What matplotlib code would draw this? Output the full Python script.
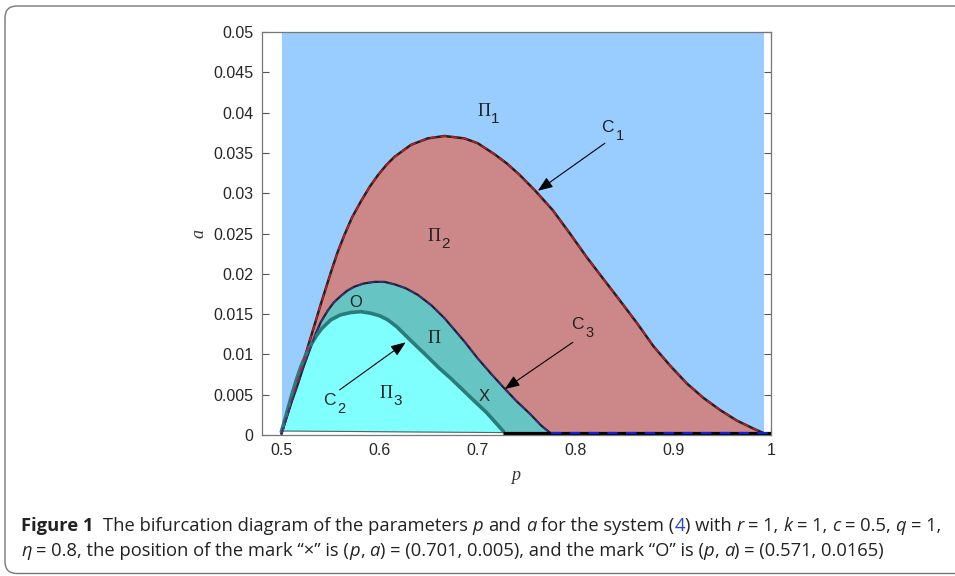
import matplotlib
matplotlib.use('Agg')
import matplotlib.pyplot as plt
from matplotlib.patches import FancyBboxPatch
from matplotlib import font_manager
from matplotlib.font_manager import FontProperties

# ---------------- data ----------------
x_ticks = [0.5, 0.6, 0.7, 0.8, 0.9, 1.0]
x_tick_labels = ["0.5", "0.6", "0.7", "0.8", "0.9", "1"]
y_ticks = [0, 0.005, 0.01, 0.015, 0.02, 0.025, 0.03, 0.035, 0.04, 0.045, 0.05]
y_tick_labels = ["0", "0.005", "0.01", "0.015", "0.02", "0.025", "0.03",
                 "0.035", "0.04", "0.045", "0.05"]

# region II1 (background) extent in p
blue_p = [0.5, 0.993]

# curve C1 (boundary II1 / II2)
c1_p = [0.500, 0.510, 0.520, 0.530, 0.541, 0.5504, 0.557, 0.5641, 0.572, 0.5811,
        0.590, 0.5982, 0.607, 0.6152, 0.6322, 0.6493, 0.6664, 0.6868, 0.7004, 0.718,
        0.730, 0.743, 0.760, 0.777, 0.794, 0.8115, 0.8285, 0.8456, 0.863, 0.880,
        0.897, 0.914, 0.931, 0.948, 0.965, 0.982, 0.993]
c1_a = [0.0002, 0.0042, 0.0082, 0.0122, 0.0166, 0.0202, 0.0226, 0.0248, 0.0270, 0.0290,
        0.0308, 0.0322, 0.0335, 0.0345, 0.0360, 0.0368, 0.0371, 0.0368, 0.0362, 0.0348,
        0.0337, 0.0323, 0.0302, 0.0279, 0.0251, 0.0221, 0.0194, 0.0167, 0.0139, 0.0110,
        0.0086, 0.0064, 0.0046, 0.0031, 0.0018, 0.0008, 0.0002]

# curve C3 (boundary II2 / II)
c3_p = [0.500, 0.510, 0.5164, 0.522, 0.528, 0.534, 0.540, 0.547, 0.553, 0.560,
        0.567, 0.5743, 0.584, 0.5948, 0.605, 0.6152, 0.627, 0.639, 0.653, 0.6664,
        0.6868, 0.7004, 0.714, 0.726, 0.740, 0.754, 0.765, 0.775]
c3_a = [0.0002, 0.0040, 0.0062, 0.0083, 0.0103, 0.0123, 0.0140, 0.0154, 0.0164, 0.0172,
        0.0179, 0.0184, 0.0188, 0.0190, 0.0190, 0.0187, 0.0182, 0.0174, 0.0161, 0.0145,
        0.0116, 0.0095, 0.0076, 0.0060, 0.0042, 0.0026, 0.0012, 0.0002]

# curve C2 (boundary II / II3)
c2_p = [0.500, 0.505, 0.5095, 0.515, 0.5198, 0.525, 0.530, 0.5355, 0.541, 0.5504,
        0.560, 0.5709, 0.581, 0.5913, 0.600, 0.6084, 0.618, 0.6288, 0.639, 0.6493,
        0.661, 0.6731, 0.6936, 0.7093, 0.7263]
c2_a = [0.0005, 0.0026, 0.0046, 0.0068, 0.0085, 0.0100, 0.0112, 0.0123, 0.0132, 0.0143,
        0.0149, 0.0152, 0.0153, 0.0151, 0.0148, 0.0143, 0.0134, 0.0121, 0.0109, 0.0097,
        0.0083, 0.0070, 0.0046, 0.0028, 0.0005]

# lower edge of region II3
low_p = [0.500, 0.7263]
low_a = [0.0005, 0.0003]

# bottom boundary segments
bottom_p = [0.7263, 1.0]
bottom_a = [0.0002, 0.0002]
bottom_blue_p = [0.775, 1.0]

# marks and labels
mark_o = (0.576, 0.0165)
mark_x = (0.7065, 0.0048)
region_labels = [("\u03a0", "1", 0.7065, 0.0401),
                 ("\u03a0", "2", 0.6554, 0.0246),
                 ("\u03a0", "", 0.6554, 0.0120),
                 ("\u03a0", "3", 0.6063, 0.0052)]
curve_labels = [("C", "1", 0.8333, 0.0381),
                ("C", "3", 0.8027, 0.0137),
                ("C", "2", 0.5491, 0.0043)]
arrows = [((0.8303, 0.0362), (0.7618, 0.0303)),
          ((0.7975, 0.0115), (0.7280, 0.0057)),
          ((0.5593, 0.0056), (0.6268, 0.0115))]

# ---------------- figure ----------------
W, H = 955, 576
fig = plt.figure(figsize=(W / 100, H / 100), dpi=100)
fig.patch.set_facecolor('white')

# outer rounded frame
frame = FancyBboxPatch((0.05, 0.025), 10.0, 5.675,
                       boxstyle='round,pad=0,rounding_size=0.12',
                       transform=fig.dpi_scale_trans, fill=False,
                       edgecolor='#777777', lw=1.0)
fig.add_artist(frame)

ax = fig.add_axes([262 / W, 1 - 435 / H, (771 - 262) / W, (435 - 32) / H])
ax.set_xlim(0.48, 1.0)
ax.set_ylim(0, 0.05)
ax.set_axisbelow(True)

# fills
ax.fill_between(blue_p, 0, 0.05, color='#99CCFF', lw=0, zorder=1)
ax.fill_between(c1_p, 0, c1_a, color='#CC8888', lw=0, zorder=2)
ax.fill_between(c3_p, 0, c3_a, color='#66C4C2', lw=0, zorder=3)
ax.fill_between(c2_p, [low_a[0] + (low_a[1] - low_a[0]) * (p - low_p[0]) / (low_p[1] - low_p[0]) for p in c2_p],
                c2_a, color='#80FFFF', lw=0, zorder=4)
ax.fill_between(low_p, 0, low_a, color='white', lw=0, zorder=4.5)

# lines
ax.plot(c1_p, c1_a, color='#222222', lw=1.8, zorder=6, solid_joinstyle='round')
ax.plot(c1_p, c1_a, color='#D01818', lw=1.1, ls=(0, (4, 3)), zorder=7)
ax.plot(c3_p, c3_a, color='#222222', lw=1.6, zorder=6, solid_joinstyle='round')
ax.plot(c3_p, c3_a, color='#3A2A9A', lw=1.1, ls=(0, (4, 3)), zorder=7)
ax.plot(c2_p, c2_a, color='#2A7C7A', lw=2.6, zorder=6, solid_joinstyle='round')
ax.plot(low_p, low_a, color='#556666', lw=0.8, zorder=6)
ax.plot(bottom_p, bottom_a, color='black', lw=2.3, zorder=6, solid_capstyle='butt')
ax.plot(bottom_blue_p, bottom_a, color='#1020E0', lw=1.5, ls=(0, (5, 4)), zorder=7)

# ticks & spines
ax.set_xticks(x_ticks)
ax.set_xticklabels(x_tick_labels)
ax.set_yticks(y_ticks)
ax.set_yticklabels(y_tick_labels)
ax.tick_params(direction='in', length=5, width=0.8, color='#555555',
               top=True, right=True, labelsize=11.5, labelcolor='#262626', pad=6)
for lab in ax.get_xticklabels() + ax.get_yticklabels():
    lab.set_family('Liberation Sans')
for s in ax.spines.values():
    s.set_color('#777777')
    s.set_linewidth(0.9)
    s.set_zorder(8)

# axis labels
fig.text(199 / W, 1 - 233 / H, 'a', family='Liberation Serif', style='italic',
         fontsize=13, rotation=90, ha='center', va='center', color='#333333')
fig.text(516 / W, 1 - 476 / H, 'p', family='Liberation Serif', style='italic',
         fontsize=13, ha='center', va='center', color='#333333')

# region / curve labels
for main, sub, x, y in region_labels:
    ax.text(x, y, main, family='Liberation Serif', fontsize=13, ha='center',
            va='center', color='#222222', zorder=10)
    if sub:
        ax.annotate(sub, (x, y), xytext=(8.5, -5.5), textcoords='offset points',
                    family='Liberation Sans', fontsize=11, ha='center', va='center',
                    color='#222222', zorder=10)
for main, sub, x, y in curve_labels:
    ax.text(x, y, main, family='Liberation Sans', fontsize=12.5, ha='center',
            va='center', color='#222222', zorder=10)
    ax.annotate(sub, (x, y), xytext=(8.5, -6), textcoords='offset points',
                family='Liberation Sans', fontsize=10.5, ha='center', va='center',
                color='#222222', zorder=10)
ax.text(mark_o[0], mark_o[1], 'O', family='Liberation Sans', fontsize=12,
        ha='center', va='center', color='#222222', zorder=10)
ax.text(mark_x[0], mark_x[1], 'X', family='Liberation Sans', fontsize=12,
        ha='center', va='center', color='#222222', zorder=10)
for tail, head in arrows:
    ax.annotate('', xy=head, xytext=tail,
                arrowprops=dict(arrowstyle='-|>,head_length=0.9,head_width=0.35',
                                color='black', lw=0.8, shrinkA=0, shrinkB=0),
                zorder=11)

# ---------------- caption ----------------
def pick_font():
    for fam in ['Liberation Sans Narrow', 'Open Sans']:
        try:
            font_manager.findfont(FontProperties(family=fam), fallback_to_default=False)
            return fam
        except Exception:
            pass
    return 'DejaVu Sans'

cap_font = pick_font()
renderer = fig.canvas.get_renderer()

line1 = [("Figure 1", 'normal', 'bold', '#222222'),
         ("  The bifurcation diagram of the parameters ", 'normal', 'normal', '#222222'),
         ("p", 'italic', 'normal', '#222222'),
         (" and ", 'normal', 'normal', '#222222'),
         ("a", 'italic', 'normal', '#222222'),
         (" for the system (", 'normal', 'normal', '#222222'),
         ("4", 'normal', 'normal', '#2244DD'),
         (") with ", 'normal', 'normal', '#222222'),
         ("r", 'italic', 'normal', '#222222'),
         (" = 1, ", 'normal', 'normal', '#222222'),
         ("k", 'italic', 'normal', '#222222'),
         (" = 1, ", 'normal', 'normal', '#222222'),
         ("c", 'italic', 'normal', '#222222'),
         (" = 0.5, ", 'normal', 'normal', '#222222'),
         ("q", 'italic', 'normal', '#222222'),
         (" = 1,", 'normal', 'normal', '#222222')]
line2 = [("\u03b7", 'italic', 'normal', '#222222'),
         (" = 0.8, the position of the mark \u201c\u00d7\u201d is (", 'normal', 'normal', '#222222'),
         ("p", 'italic', 'normal', '#222222'),
         (", ", 'normal', 'normal', '#222222'),
         ("a", 'italic', 'normal', '#222222'),
         (") = (0.701, 0.005), and the mark \u201cO\u201d is (", 'normal', 'normal', '#222222'),
         ("p", 'italic', 'normal', '#222222'),
         (", ", 'normal', 'normal', '#222222'),
         ("a", 'italic', 'normal', '#222222'),
         (") = (0.571, 0.0165)", 'normal', 'normal', '#222222')]


def text_w(s, size, style='normal', weight='normal'):
    t = fig.text(0, 0, s, fontsize=size, family=[cap_font, 'DejaVu Sans'],
                 style=style, weight=weight)
    w = t.get_window_extent(renderer).width
    t.remove()
    return w


def seg_w(s, size, style, weight):
    return text_w('|' + s + '|', size, style, weight) - 2 * text_w('|', size, style, weight)


def draw_line(pieces, x0, y_px, size, draw=True):
    x = x0
    for s, style, weight, color in pieces:
        w = seg_w(s, size, style, weight)
        if draw:
            lead = len(s) - len(s.lstrip(' '))
            core = s.strip(' ')
            sp = (seg_w(' ' * lead, size, style, weight) if lead else 0.0)
            if core:
                fig.text((x + sp) / W, 1 - y_px / H, core, fontsize=size,
                         family=[cap_font, 'DejaVu Sans'], style=style,
                         weight=weight, color=color, ha='left', va='baseline')
        x += w
    return x - x0


base = 11.0
w1 = draw_line(line1, 21, 531, base, draw=False)
size = base * (923.0 / w1)
draw_line(line1, 21, 531, size)
draw_line(line2, 21, 556, size)

fig.savefig('out.png', dpi=100, facecolor='white')
